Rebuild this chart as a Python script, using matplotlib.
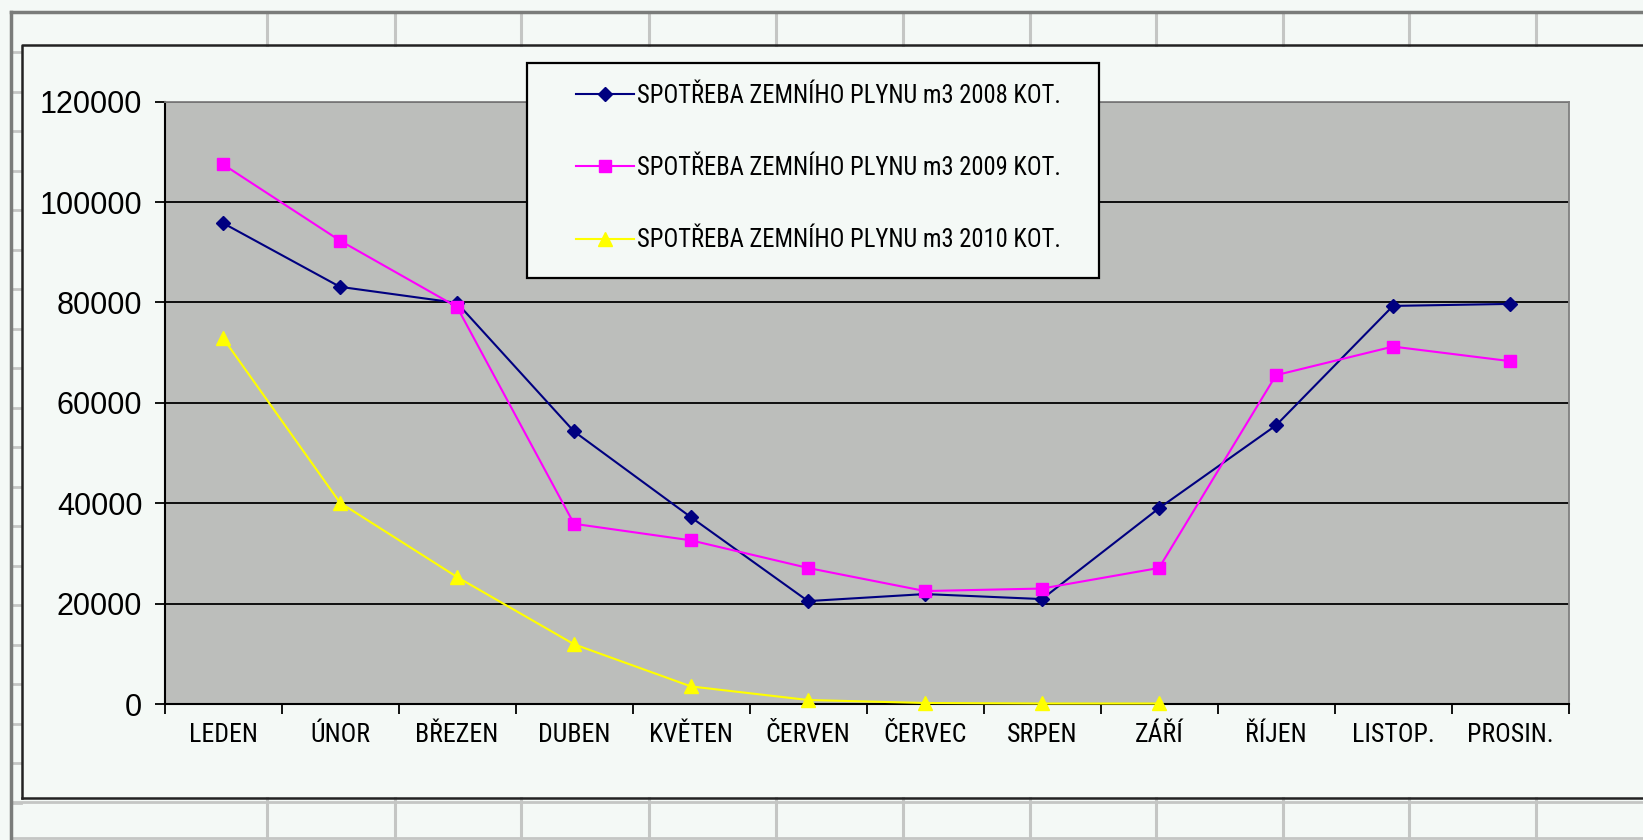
import os
import matplotlib
matplotlib.use("Agg")
import matplotlib.pyplot as plt
from matplotlib import font_manager as fm
from matplotlib.patches import Rectangle
import numpy as np

# monthly gas consumption (m3)
months = ["LEDEN", "ÚNOR", "BŘEZEN", "DUBEN", "KVĚTEN", "ČERVEN",
          "ČERVEC", "SRPEN", "ZÁŘÍ", "ŘÍJEN", "LISTOP.", "PROSIN."]
gas_2008 = [95800, 83100, 79900, 54300, 37200, 20500,
            21900, 20900, 39000, 55500, 79300, 79700]
gas_2009 = [107500, 92300, 79100, 35900, 32600, 27100,
            22500, 23000, 27100, 65500, 71200, 68300]
gas_2010 = [72900, 40100, 25300, 11900, 3500, 800,
            200, 100, 100]
labels = ["SPOTŘEBA ZEMNÍHO PLYNU m3 2008 KOT.",
          "SPOTŘEBA ZEMNÍHO PLYNU m3 2009 KOT.",
          "SPOTŘEBA ZEMNÍHO PLYNU m3 2010 KOT."]
y_ticks = [0, 20000, 40000, 60000, 80000, 100000, 120000]

W, H = 1643, 840
PAGE = "#f4f9f6"


def narrow_font():
    """
    Look for an installed condensed sans font (the original uses Arial Narrow)
    """
    prefs = ["liberationsansnarrow", "arialn", "robotocondensed",
             "notosans-condensed", "opensans_condensed", "opensans-condensed",
             "dejavusanscondensed", "condensed", "narrow"]
    bad = ["bold", "italic", "light", "thin", "medium", "black", "semi",
           "extra", "oblique", "heavy"]
    found = {}
    for f in fm.fontManager.ttflist:
        base = os.path.basename(f.fname).lower()
        if "condensed" not in base and "narrow" not in base and "arialn" not in base:
            continue
        if any(b in base.replace("condensed", "").replace("narrow", "") for b in bad):
            continue
        if "extracondensed" in base or "semicondensed" in base:
            continue
        if "serif" in base or "mono" in base:
            continue
        for p in prefs:
            if p in base:
                found.setdefault(p, f.fname)
                break
    for p in prefs:
        if p in found:
            return fm.FontProperties(fname=found[p])
    return fm.FontProperties(family=["Liberation Sans", "DejaVu Sans"])


fig = plt.figure(figsize=(W / 100, H / 100), dpi=100, facecolor=PAGE)

narrow = narrow_font()


def fit_size(text, target_px):
    # size the narrow font so the text is as wide as in the picture
    probe = fig.text(0, 0, text, fontproperties=narrow, size=20)
    w = probe.get_window_extent(renderer=fig.canvas.get_renderer()).width
    probe.remove()
    return 20 * target_px / w


leg_size = fit_size(labels[0], 425)
tick_size = fit_size("BŘEZEN", 83)

# spreadsheet background, drawn in pixel coordinates
bg = fig.add_axes([0, 0, 1, 1], zorder=-1)
bg.set_xlim(0, W)
bg.set_ylim(H, 0)
bg.axis("off")
cols = [267, 395, 521, 649, 776, 903, 1030, 1156, 1283, 1409, 1536]
for x in cols:
    bg.plot([x, x], [12, 45], color="#c4c6c4", lw=2.2)
    bg.plot([x, x], [798, 840], color="#c4c6c4", lw=2.2)
for k in range(20):
    y = 52 + 39.5 * k
    bg.plot([11, 21], [y, y], color="#c4c6c4", lw=2)
bg.plot([11, W], [802, 802], color="#c4c6c4", lw=2)
bg.plot([11, W], [838, 838], color="#c4c6c4", lw=2)
bg.plot([11, W], [12, 12], color="#7a7c7a", lw=2.5)
bg.plot([11, 11], [12, H], color="#7a7c7a", lw=2.5)
# chart area frame
bg.plot([22, 22, W + 5], [H - 42, 45, 45], color="#222222", lw=1.8)
bg.plot([22, W + 5], [798, 798], color="#222222", lw=1.8)

ax = fig.add_axes([164.5 / W, 1 - 704 / H, 1404 / W, 602.4 / H])
ax.set_facecolor("#bcbebb")
x = np.arange(len(months))

ax.plot(x, gas_2008, color="#000080", lw=1.5, marker="D", ms=7.5,
        clip_on=False, zorder=3, label=labels[0])
ax.plot(x, gas_2009, color="#ff00ff", lw=1.5, marker="s", ms=9,
        clip_on=False, zorder=4, label=labels[1])
ax.plot(x[:len(gas_2010)], gas_2010, color="#ffff00", lw=1.5, marker="^",
        ms=10.5, clip_on=False, zorder=5, label=labels[2])

ax.set_xlim(-0.5, len(months) - 0.5)
ax.set_ylim(0, 120000)
ax.set_yticks(y_ticks)
ax.set_yticklabels([str(v) for v in y_ticks], fontsize=22,
                   family=["Liberation Sans", "DejaVu Sans"])
ax.yaxis.grid(True, color="black", lw=1.3)
ax.set_axisbelow(True)

ax.set_xticks(np.arange(-0.5, len(months)), minor=False)
ax.set_xticklabels([])
ax.set_xticks(x, minor=True)
ax.set_xticklabels(months, minor=True)
for lab in ax.get_xticklabels(minor=True):
    lab.set_fontproperties(narrow)
    lab.set_fontsize(tick_size)
ax.tick_params(axis="x", which="major", direction="out", length=7, width=1.3)
ax.tick_params(axis="x", which="minor", length=0, pad=14)
ax.tick_params(axis="y", direction="out", length=7, width=1.3, pad=9)

for side in ["left", "bottom"]:
    ax.spines[side].set_color("black")
    ax.spines[side].set_linewidth(1.5)
for side in ["top", "right"]:
    ax.spines[side].set_color("#808080")
    ax.spines[side].set_linewidth(1.3)

# legend box
fig.add_artist(Rectangle((527 / W, 1 - 278 / H), 572 / W, 215 / H,
                         transform=fig.transFigure, facecolor=PAGE,
                         edgecolor="black", lw=1.6, zorder=4))
size_px = leg_size * 100 / 72
leg_prop = narrow.copy()
leg_prop.set_size(leg_size)
handles, lbls = ax.get_legend_handles_labels()
leg = fig.legend(handles, lbls, loc="center left",
                 bbox_to_anchor=(576 / W, 1 - 168 / H), frameon=False,
                 borderpad=0, borderaxespad=0, handlelength=58 / size_px,
                 handletextpad=3 / size_px,
                 labelspacing=(78 - 1.2 * size_px) / size_px, numpoints=1,
                 prop=leg_prop)
leg.set_zorder(5)

fig.savefig("out.png", dpi=100, facecolor=PAGE)
